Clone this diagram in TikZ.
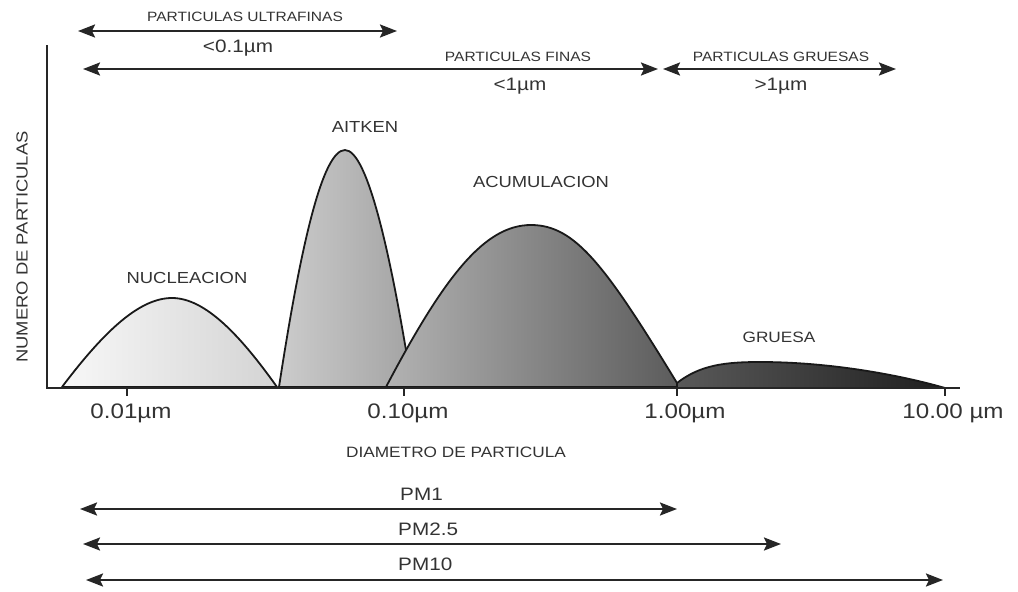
\documentclass[tikz,border=0pt]{standalone}
\usepackage{fontspec}
\setsansfont[FakeStretch=1.15]{Liberation Sans}
\usetikzlibrary{arrows.meta}
\tikzset{
  txt/.style={font=\sffamily\fontsize{#1}{#1}\selectfont, text=black!80, inner sep=0pt, anchor=base},
  sizerange/.style={line width=2.3pt, draw=black!85, {Stealth[length=17pt,width=13pt,inset=3pt]}-{Stealth[length=17pt,width=13pt,inset=3pt]}},
  mode/.style={draw=black!90, line width=1.8pt, line join=round},
}
\begin{document}
\begin{tikzpicture}[x=1pt,y=-1pt]
            \useasboundingbox (0,0) rectangle (1018,592);
            % modes
            \draw[mode, left color=black!20, right color=black!36] (279,387) .. controls (300,250) and (322,150) .. (345,150) .. controls (368,150) and (392,260) .. (412,387) -- cycle;
            \draw[mode, left color=black!30, right color=black!64] (386,387) .. controls (445,275) and (485,225) .. (531,225) .. controls (575,225) and (605,265) .. (677,383) -- (677,387) -- cycle;
            \draw[mode, left color=black!3, right color=black!17] (62,387) .. controls (105,330) and (140,298) .. (172,298) .. controls (205,298) and (240,335) .. (277,387) -- cycle;
            \draw[mode, left color=black!65, right color=black!88] (677,383) .. controls (700,365) and (725,362) .. (760,362) .. controls (830,362) and (900,375) .. (945,388) -- (677,388) -- cycle;
            \node[txt=16] (nucl) at (187,283) {NUCLEACION};
            \node[txt=16] (aitken) at (365,132) {AITKEN};
            \node[txt=16] (acum) at (541,187) {ACUMULACION};
            \node[txt=15] (gruesa) at (779,342) {GRUESA};
            % axes
            \coordinate (origin) at (47,388);
            \coordinate (ytop) at (47,45);
            \coordinate (xend) at (960,388);
            \draw[line width=1.6pt, black!85] (ytop) -- (origin) -- (xend);
            \foreach \x/\lx/\lab [count=\i] in {127/131/0.01µm, 404/408/0.10µm, 677/685/1.00µm, 945/953/10.00 µm}{
                \draw[line width=1.4pt, black!85] (\x,388) -- (\x,396);
                \node[txt=21] (tick\i) at (\lx,418) {\lab};
            }
            \node[txt=15] (xlabel) at (456,457) {DIAMETRO DE PARTICULA};
            \node[txt=16, rotate=90, anchor=center] (ylabel) at (22,247) {NUMERO DE PARTICULAS};
            % size classes
            \coordinate (uf-l) at (78,31);
            \coordinate (uf-r) at (397,31);
            \draw[sizerange] (uf-l) -- (uf-r);
            \node[txt=13.5] (uf-name) at (245,21) {PARTICULAS ULTRAFINAS};
            \node[txt=18] (uf-size) at (238,52) {<0.1µm};
            \coordinate (fi-l) at (83,69);
            \coordinate (fi-r) at (658,69);
            \draw[sizerange] (fi-l) -- (fi-r);
            \node[txt=13.5] (fi-name) at (518,61) {PARTICULAS FINAS};
            \node[txt=18] (fi-size) at (520,90) {<1µm};
            \coordinate (gr-l) at (663,69);
            \coordinate (gr-r) at (896,69);
            \draw[sizerange] (gr-l) -- (gr-r);
            \node[txt=13.5] (gr-name) at (781,61) {PARTICULAS GRUESAS};
            \node[txt=18] (gr-size) at (781,90) {>1µm};
            % PM fractions
            \coordinate (pm1-l) at (80,509);
            \coordinate (pm1-r) at (677,509);
            \draw[sizerange] (pm1-l) -- (pm1-r);
            \node[txt=18, anchor=base west] (pm1) at (400,500) {PM1};
            \coordinate (pm25-l) at (83,544);
            \coordinate (pm25-r) at (781,544);
            \draw[sizerange] (pm25-l) -- (pm25-r);
            \node[txt=18, anchor=base west] (pm25) at (398,535) {PM2.5};
            \coordinate (pm10-l) at (86,580);
            \coordinate (pm10-r) at (943,580);
            \draw[sizerange] (pm10-l) -- (pm10-r);
            \node[txt=18, anchor=base west] (pm10) at (398,570) {PM10};
        \end{tikzpicture}
\end{document}
